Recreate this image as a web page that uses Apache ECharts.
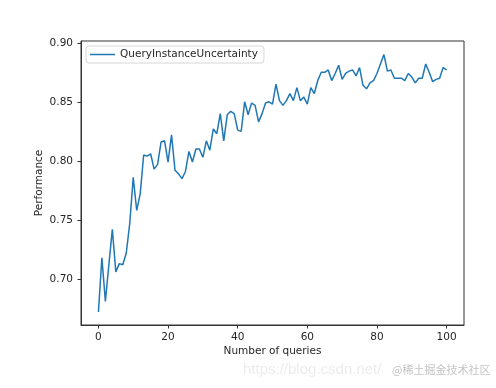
<!DOCTYPE html>
<html>
<head>
<meta charset="utf-8">
<script src="https://cdn.jsdelivr.net/npm/echarts@6/dist/echarts.min.js"></script>
<style>
html,body{margin:0;padding:0;background:#fff;}
#chart{width:496px;height:388px;}
</style>
</head>
<body>
<div id="chart"></div>
<script>
// Data
var seriesName = 'QueryInstanceUncertainty';
var performance = [
  0.672, 0.718, 0.681, 0.712, 0.742, 0.706, 0.713, 0.712, 0.722, 0.747,
  0.786, 0.758, 0.772, 0.805, 0.804, 0.806, 0.793, 0.797, 0.816, 0.817,
  0.799, 0.822, 0.792, 0.789, 0.785, 0.791, 0.808, 0.799, 0.810, 0.810,
  0.803, 0.817, 0.809, 0.827, 0.823, 0.840, 0.817, 0.839, 0.842, 0.840,
  0.826, 0.825, 0.850, 0.839, 0.849, 0.847, 0.833, 0.840, 0.849, 0.850,
  0.848, 0.865, 0.851, 0.847, 0.851, 0.857, 0.851, 0.862, 0.851, 0.854,
  0.848, 0.862, 0.857, 0.868, 0.875, 0.875, 0.877, 0.868, 0.874, 0.881,
  0.869, 0.874, 0.876, 0.877, 0.872, 0.879, 0.864, 0.861, 0.866, 0.868,
  0.874, 0.882, 0.890, 0.876, 0.877, 0.870, 0.870, 0.870, 0.868, 0.874,
  0.871, 0.866, 0.870, 0.870, 0.882, 0.875, 0.867, 0.869, 0.870, 0.879,
  0.877
];
var xTicks = [0, 20, 40, 60, 80, 100];
var yTicks = [0.70, 0.75, 0.80, 0.85, 0.90];
var xTitle = 'Number of queries';
var yTitle = 'Performance';

var points = performance.map(function (v, i) { return [i, v]; });

var textColor = '#262626';
var font = 'DejaVu Sans';
var chart = echarts.init(document.getElementById('chart'), null, {renderer: 'canvas'});
chart.setOption({
  animation: false,
  backgroundColor: '#fff',
  grid: {
    left: 81, right: 32, top: 41, bottom: 63,
    show: true, borderColor: '#333', borderWidth: 1, backgroundColor: 'transparent'
  },
  legend: {
    left: 86, top: 46,
    padding: [3, 6, 3, 4],
    backgroundColor: '#fff',
    borderColor: '#d6d6d6', borderWidth: 1, borderRadius: 3,
    itemWidth: 25, itemHeight: 14,
    textStyle: {fontFamily: font, fontSize: 10.5, color: textColor},
    data: [{name: seriesName, icon: 'path://M0,0 L25,0 L25,1.5 L0,1.5 Z'}]
  },
  xAxis: {
    type: 'value', min: -5, max: 105,
    name: xTitle, nameLocation: 'middle', nameGap: 21, nameMoveOverlap: false,
    nameTextStyle: {fontFamily: font, fontSize: 10.5, color: textColor},
    axisLine: {show: true, onZero: false, lineStyle: {color: '#333', width: 1}},
    axisTick: {show: true, inside: false, length: 3.5, lineStyle: {color: '#333'}, customValues: xTicks},
    axisLabel: {fontFamily: font, fontSize: 10.5, color: textColor, margin: 7, customValues: xTicks},
    splitLine: {show: false}
  },
  yAxis: {
    type: 'value', min: 0.661, max: 0.9015,
    name: yTitle, nameLocation: 'middle', nameGap: 36, nameRotate: 90, nameMoveOverlap: false,
    nameTextStyle: {fontFamily: font, fontSize: 10.5, color: textColor},
    axisLine: {show: true, onZero: false, lineStyle: {color: '#333', width: 1}},
    axisTick: {show: true, inside: false, length: 3.5, lineStyle: {color: '#333'}, customValues: yTicks},
    axisLabel: {fontFamily: font, fontSize: 10.5, color: textColor, margin: 8,
      customValues: yTicks, formatter: function (v) { return v.toFixed(2); }},
    splitLine: {show: false}
  },
  series: [{
    name: seriesName,
    type: 'line',
    data: points,
    showSymbol: false, symbol: 'none',
    lineStyle: {color: '#1f77b4', width: 1.5},
    itemStyle: {color: '#1f77b4'}
  }],
  graphic: [
    {type: 'text', left: 243, top: 362,
      style: {text: 'https://blog.csdn.net/', fontFamily: 'Liberation Sans', fontSize: 15, fill: '#ececec'}},
    {type: 'text', left: 392, top: 364,
      style: {text: '@稀土掘金技术社区', fontFamily: 'Noto Sans CJK SC', fontSize: 11, fill: '#c4c4c4'}}
  ]
});
</script>
</body>
</html>
